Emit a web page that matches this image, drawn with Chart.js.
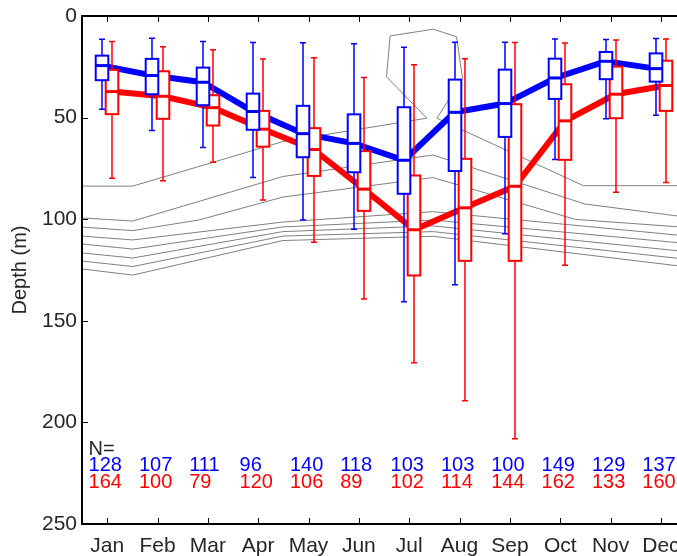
<!DOCTYPE html>
<html>
<head>
<meta charset="utf-8">
<script src="https://cdn.jsdelivr.net/npm/chart.js@4.4.1/dist/chart.umd.min.js"></script>
<style>
  html, body { margin: 0; padding: 0; background: #fff; }
</style>
</head>
<body>
<canvas id="chart" width="677" height="556"></canvas>
<script>
const months = ['Jan', 'Feb', 'Mar', 'Apr', 'May', 'Jun', 'Jul', 'Aug', 'Sep', 'Oct', 'Nov', 'Dec'];
const depthTicks = [0, 50, 100, 150, 200, 250];

// per month: [lower whisker, q1, median, q3, upper whisker], depth in m
const blueStats = [
  [11.5, 19.5, 24.4, 31.6, 45.9],
  [11.0, 21.1, 29.3, 38.5, 56.4],
  [12.5, 25.4, 32.6, 43.9, 64.7],
  [13.1, 38.2, 47.0, 56.0, 79.5],
  [13.2, 44.2, 57.9, 69.5, 100.4],
  [13.7, 48.4, 62.7, 76.9, 105.0],
  [15.4, 44.9, 71.0, 87.5, 140.6],
  [12.9, 31.3, 47.4, 76.3, 132.3],
  [12.9, 26.4, 43.1, 59.5, 107.2],
  [11.3, 21.0, 30.5, 40.8, 70.6],
  [11.6, 17.7, 22.3, 31.1, 50.6],
  [11.1, 18.4, 25.9, 32.3, 48.8]
];
const redStats = [
  [12.5, 26.5, 37.2, 48.3, 79.8],
  [15.1, 27.2, 39.5, 50.6, 81.1],
  [16.6, 39.0, 45.1, 53.9, 72.0],
  [21.1, 46.7, 55.7, 64.3, 90.5],
  [20.5, 55.2, 65.7, 78.7, 111.3],
  [30.3, 66.5, 85.2, 95.9, 139.3],
  [24.0, 78.5, 105.2, 127.7, 170.6],
  [21.0, 70.3, 94.4, 120.5, 189.3],
  [13.1, 43.4, 83.8, 120.5, 208.0],
  [13.3, 33.6, 51.6, 70.8, 122.7],
  [11.8, 24.9, 38.5, 50.3, 86.7],
  [11.3, 22.0, 34.2, 46.7, 81.9]
];
const blueCounts = [128, 107, 111, 96, 140, 118, 103, 103, 100, 149, 129, 137];
const redCounts = [164, 100, 79, 120, 106, 89, 102, 114, 144, 162, 133, 160];

// gray isolines, [month, depth] vertices
const iso1 = [[0.5, 83.7], [1.51, 83.7], [4.49, 61.8], [7.35, 50.3], [6.55, 29.9], [6.62, 9.8],
  [7.48, 6.5], [7.94, 10.2], [8.06, 30.7], [7.55, 50.3], [10.46, 83.5], [12.32, 83.5]];
const iso2 = [[0.5, 99.4], [1.51, 100.9], [4.49, 79.0], [7.47, 68.4], [10.49, 92.5], [12.32, 98.4]];
const iso3 = [[0.5, 103.9], [1.51, 105.6], [2.82, 100.4], [4.49, 89.1], [7.47, 79.5], [10.3, 100.1], [12.32, 103.7]];
const iso4 = [[0.5, 108.3], [1.51, 110.2], [4.49, 101.4], [7.47, 96.3], [12.32, 107.8]];
const iso5 = [[0.5, 112.2], [1.51, 114.7], [4.49, 103.8], [7.47, 100.4], [12.32, 111.5]];
const iso6 = [[0.5, 116.6], [1.51, 119.1], [4.49, 106.1], [7.47, 103.3], [12.32, 115.5]];
const iso7 = [[0.5, 120.6], [1.51, 123.3], [4.49, 108.3], [7.47, 106.1], [12.32, 119.2]];
const iso8 = [[0.5, 124.5], [1.51, 127.5], [4.49, 110.5], [7.47, 108.4], [12.32, 122.9]];

const FONT = 'Liberation Sans, Arial, Helvetica, sans-serif';
const BLUE = '#0000ff';
const RED = '#ff0000';
const SHIFT = 0.1;     // box offset from month centre
const HALF_BOX = 0.125;

function medianLine(stats, shift, color) {
  return {
    data: stats.map((s, i) => ({ x: i + 1 + shift, y: s[2] })),
    borderColor: color,
    borderWidth: 6,
    showLine: true,
    pointRadius: 0,
    order: 1
  };
}

function isoLine(pts) {
  return {
    data: pts.map(p => ({ x: p[0], y: p[1] })),
    borderColor: '#7f7f7f',
    borderWidth: 1,
    showLine: true,
    pointRadius: 0,
    order: 2
  };
}

function drawBoxes(ctx, xs, ys, stats, shift, color) {
  stats.forEach((s, i) => {
    const c = Math.round(xs.getPixelForValue(i + 1 + shift));
    const half = xs.getPixelForValue(i + 1 + shift + HALF_BOX) - xs.getPixelForValue(i + 1 + shift);
    const [lo, q1, med, q3, hi] = s.map(v => ys.getPixelForValue(v));
    ctx.save();
    ctx.strokeStyle = color;
    // whiskers
    ctx.lineWidth = 1.5;
    ctx.beginPath();
    ctx.moveTo(c, lo); ctx.lineTo(c, q1);
    ctx.moveTo(c, q3); ctx.lineTo(c, hi);
    ctx.moveTo(c - 3, lo); ctx.lineTo(c + 3, lo);
    ctx.moveTo(c - 3, hi); ctx.lineTo(c + 3, hi);
    ctx.stroke();
    // box
    ctx.fillStyle = '#fff';
    ctx.fillRect(c - half, q1, 2 * half, q3 - q1);
    ctx.lineWidth = 2;
    ctx.strokeRect(c - half, q1, 2 * half, q3 - q1);
    // median
    ctx.lineWidth = 3;
    ctx.beginPath();
    ctx.moveTo(c - half, med); ctx.lineTo(c + half, med);
    ctx.stroke();
    ctx.restore();
  });
}

const boxPlugin = {
  id: 'boxes',
  afterDatasetsDraw(chart) {
    const { ctx, scales: { x, y } } = chart;
    drawBoxes(ctx, x, y, redStats, SHIFT, RED);
    drawBoxes(ctx, x, y, blueStats, -SHIFT, BLUE);
  }
};

// axes box with inward ticks, plus the sample counts
const framePlugin = {
  id: 'frame',
  afterDraw(chart) {
    const { ctx, chartArea: a, scales: { x, y } } = chart;
    ctx.save();
    ctx.strokeStyle = '#000';
    ctx.lineWidth = 1;
    ctx.beginPath();
    months.forEach((m, i) => {
      const px = Math.round(x.getPixelForValue(i + 1)) + 0.5;
      ctx.moveTo(px, a.top); ctx.lineTo(px, a.top + 6);
      ctx.moveTo(px, a.bottom); ctx.lineTo(px, a.bottom - 6);
    });
    depthTicks.forEach(d => {
      const py = Math.round(y.getPixelForValue(d)) + 0.5;
      ctx.moveTo(a.left, py); ctx.lineTo(a.left + 6, py);
    });
    ctx.stroke();
    ctx.lineWidth = 2;
    ctx.beginPath();
    ctx.moveTo(a.right, a.top); ctx.lineTo(a.left, a.top);
    ctx.lineTo(a.left, a.bottom); ctx.lineTo(a.right, a.bottom);
    ctx.stroke();

    ctx.font = '20px ' + FONT;
    ctx.textAlign = 'left';
    ctx.textBaseline = 'alphabetic';
    const left = v => x.getPixelForValue(v - 0.37);
    ctx.fillStyle = '#262626';
    ctx.fillText('N=', left(1), y.getPixelForValue(216.2));
    blueCounts.forEach((n, i) => {
      ctx.fillStyle = BLUE;
      ctx.fillText(String(n), left(i + 1), y.getPixelForValue(223.8));
    });
    redCounts.forEach((n, i) => {
      ctx.fillStyle = RED;
      ctx.fillText(String(n), left(i + 1), y.getPixelForValue(232.3));
    });
    ctx.restore();
  }
};

new Chart(document.getElementById('chart'), {
  type: 'scatter',
  data: {
    datasets: [
      medianLine(blueStats, -SHIFT, BLUE),
      medianLine(redStats, SHIFT, RED),
      ...[iso1, iso2, iso3, iso4, iso5, iso6, iso7, iso8].map(isoLine)
    ]
  },
  options: {
    responsive: false,
    animation: false,
    devicePixelRatio: 1,
    layout: { padding: { top: 16, right: 0, bottom: 0, left: 0 } },
    plugins: { legend: { display: false }, tooltip: { enabled: false } },
    scales: {
      x: {
        type: 'linear',
        min: 0.5,
        max: 12.32,
        afterBuildTicks: s => { s.ticks = months.map((_, i) => ({ value: i + 1 })); },
        afterFit: s => { s.height = 32; s.paddingLeft = 0; s.paddingRight = 0; },
        grid: { display: false, drawTicks: false },
        border: { display: false },
        ticks: {
          callback: (v, i) => months[i],
          autoSkip: false,
          maxRotation: 0,
          padding: 10,
          color: '#262626',
          font: { family: FONT, size: 21 }
        }
      },
      y: {
        type: 'linear',
        reverse: true,
        min: 0,
        max: 250,
        afterBuildTicks: s => { s.ticks = depthTicks.map(v => ({ value: v })); },
        afterFit: s => { s.width = 82; s.paddingTop = 0; s.paddingBottom = 0; },
        grid: { display: false, drawTicks: false },
        border: { display: false },
        ticks: { padding: 5, color: '#262626', font: { family: FONT, size: 21 } },
        title: {
          display: true,
          text: 'Depth (m)',
          color: '#262626',
          font: { family: FONT, size: 20 },
          padding: { top: 8, bottom: 0 }
        }
      }
    }
  },
  plugins: [boxPlugin, framePlugin]
});
</script>
</body>
</html>
